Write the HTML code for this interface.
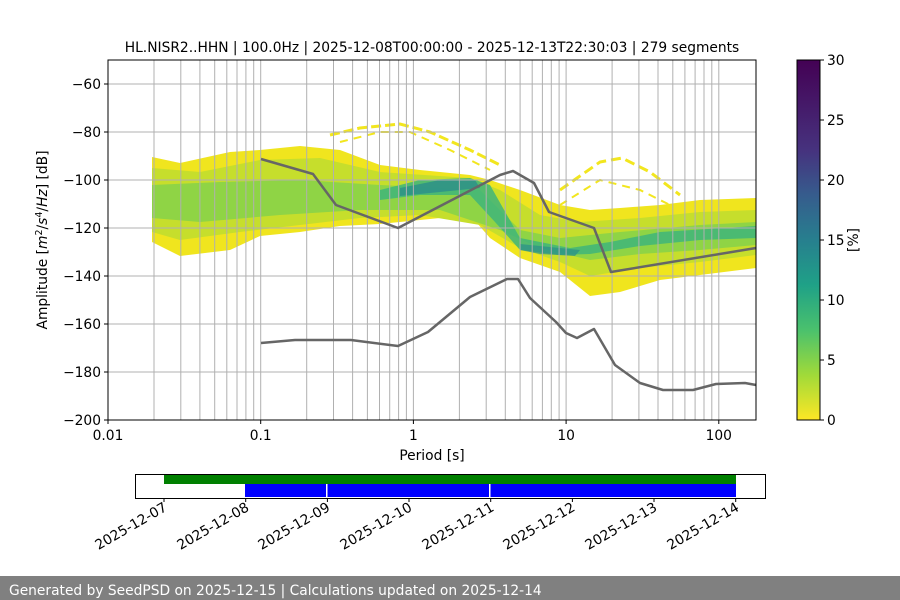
<!DOCTYPE html>
<html><head><meta charset="utf-8"><style>
html,body{margin:0;padding:0;background:#fff;}
svg{display:block;font-family:"DejaVu Sans","Liberation Sans",sans-serif;}
</style></head><body>
<svg width="900" height="600" viewBox="0 0 900 600" xmlns="http://www.w3.org/2000/svg">
<defs>
<linearGradient id="vir" x1="0" y1="1" x2="0" y2="0">
<stop offset="0" stop-color="#fde725"/><stop offset="0.125" stop-color="#a0da39"/><stop offset="0.25" stop-color="#4ac16d"/><stop offset="0.375" stop-color="#1fa187"/><stop offset="0.5" stop-color="#277f8e"/><stop offset="0.625" stop-color="#365c8d"/><stop offset="0.75" stop-color="#46327e"/><stop offset="1" stop-color="#440154"/>
</linearGradient>
</defs>
<rect width="900" height="600" fill="#fff"/>
<text x="432" y="52" font-size="13.8" text-anchor="middle">HL.NISR2..HHN | 100.0Hz | 2025-12-08T00:00:00 - 2025-12-13T22:30:03 | 279 segments</text>

<!-- heatmap -->
<polygon fill="#f0e51e" points="152,157 180,163 230,152 260,150 300,146 340,150 380,165 420,170 470,175 490,180 520,190 560,205 590,210 620,208 660,205 700,200 756,198 756,268 700,275 660,280 620,292 590,296 560,272 520,258 490,238 470,215 420,220 380,224 340,226 300,232 260,236 230,250 180,256 152,242"/>
<polygon fill="#c6de2c" points="152,168 200,172 260,160 320,158 380,172 470,178 500,190 540,215 580,222 640,218 700,212 756,210 756,255 700,262 640,268 590,276 560,262 520,248 480,225 420,215 360,218 300,225 240,232 180,240 152,232"/>
<polygon fill="#8fd445" points="152,185 220,182 300,180 380,185 440,188 480,190 520,230 560,238 620,232 700,225 756,222 756,245 700,250 640,254 590,260 540,248 500,230 440,210 360,210 280,215 200,222 152,218"/>
<polygon fill="#3fb57a" opacity="0.85" points="380,190 420,180 470,178 490,185 520,238 570,248 610,242 660,232 756,226 756,238 700,240 640,246 590,254 560,255 520,250 495,222 470,195 420,195 380,200"/>
<polygon fill="#2a8f8a" opacity="0.8" points="400,188 440,180 475,180 480,188 440,192 400,196"/>
<polygon fill="#2a8f8a" opacity="0.7" points="520,244 560,248 580,250 575,256 540,254 520,250"/>
<path d="M330,135 L360,128 L400,124 L430,132 L470,150 L500,165" fill="none" stroke="#f2e61e" stroke-width="3" stroke-dasharray="10,4"/>
<path d="M340,142 L380,132 L410,132 L450,150 L490,170" fill="none" stroke="#f2e61e" stroke-width="2" stroke-dasharray="8,6"/>
<path d="M560,190 L600,162 L622,158 L650,172 L680,195" fill="none" stroke="#f2e61e" stroke-width="3" stroke-dasharray="10,5"/>
<path d="M560,205 L600,180 L640,190 L670,205" fill="none" stroke="#f2e61e" stroke-width="2" stroke-dasharray="8,6"/>

<!-- grid -->
<g stroke="#b0b0b0" stroke-width="1">
<path d="M154,60V420M180.8,60V420M199.9,60V420M214.7,60V420M226.8,60V420M237,60V420M245.9,60V420M253.7,60V420M260.7,60V420M306.7,60V420M333.5,60V420M352.6,60V420M367.4,60V420M379.5,60V420M389.7,60V420M398.6,60V420M406.4,60V420M413.4,60V420M459.4,60V420M486.2,60V420M505.3,60V420M520.1,60V420M532.2,60V420M542.4,60V420M551.3,60V420M559.1,60V420M566.1,60V420M612.1,60V420M638.9,60V420M658,60V420M672.8,60V420M684.9,60V420M695.1,60V420M704,60V420M711.8,60V420M718.8,60V420"/>
<path d="M108,84H756M108,132H756M108,180H756M108,228H756M108,276H756M108,324H756M108,372H756"/>
</g>
<!-- noise models -->
<g fill="none" stroke="#666" stroke-width="2.5" stroke-linejoin="round">
<polyline points="261,159 313,174 336,205 398,228 500,175 513,171 534,183 549,212 594,228 611,272 756,248"/>
<polyline points="261,343 295,340 351,340 398,346 428,332 470,297 507,279 518,279 530,298 556,322 566,333 577,338 594,329 615,365 640,383 663,390 693,390 716,384 745,383 756,385"/>
</g>
<rect x="108" y="60" width="648" height="360" fill="none" stroke="#000" stroke-width="1"/>
<!-- ticks -->
<g stroke="#000"><path d="M104,84H108M104,132H108M104,180H108M104,228H108M104,276H108M104,324H108M104,372H108M104,420H108M108,420V424M260.7,420V424M413.4,420V424M566.1,420V424M718.8,420V424"/></g>
<g font-size="13.8" text-anchor="end">
<text x="101" y="89">−60</text><text x="101" y="137">−80</text><text x="101" y="185">−100</text><text x="101" y="233">−120</text><text x="101" y="281">−140</text><text x="101" y="329">−160</text><text x="101" y="377">−180</text><text x="101" y="425">−200</text>
</g>
<g font-size="13.8" text-anchor="middle">
<text x="108" y="440">0.01</text><text x="260.7" y="440">0.1</text><text x="413.4" y="440">1</text><text x="566.1" y="440">10</text><text x="718.8" y="440">100</text>
<text x="432" y="460">Period [s]</text>
</g>
<text transform="translate(47,240) rotate(-90)" font-size="13.8" text-anchor="middle">Amplitude [<tspan font-style="italic">m</tspan><tspan font-size="9.5" dy="-5">2</tspan><tspan dy="5">/</tspan><tspan font-style="italic">s</tspan><tspan font-size="9.5" dy="-5">4</tspan><tspan dy="5">/</tspan><tspan font-style="italic">Hz</tspan>] [dB]</text>

<!-- colorbar -->
<rect x="797" y="60" width="23" height="360" fill="url(#vir)" stroke="#000" stroke-width="1"/>
<g stroke="#000"><path d="M820,60H824M820,120H824M820,180H824M820,240H824M820,300H824M820,360H824M820,420H824"/></g>
<g font-size="13.8"><text x="827" y="65">30</text><text x="827" y="125">25</text><text x="827" y="185">20</text><text x="827" y="245">15</text><text x="827" y="305">10</text><text x="827" y="365">5</text><text x="827" y="425">0</text></g>
<text transform="translate(858,240) rotate(-90)" font-size="13.8" text-anchor="middle">[%]</text>

<!-- timeline -->
<rect x="164" y="475" width="572" height="9" fill="#008000"/>
<rect x="245" y="484" width="491" height="13" fill="#0000ff"/>
<rect x="326" y="484" width="1.5" height="13" fill="#fff"/>
<rect x="489" y="484" width="1.5" height="13" fill="#fff"/>
<rect x="135.5" y="474.5" width="630" height="24" fill="none" stroke="#000"/>
<g stroke="#000"><path d="M164,498V502M245.7,498V502M327.4,498V502M409,498V502M490.7,498V502M572.4,498V502M654,498V502M735.7,498V502"/></g>
<g font-size="13.8" text-anchor="end">
<text transform="translate(168,510) rotate(-30)">2025-12-07</text>
<text transform="translate(250,510) rotate(-30)">2025-12-08</text>
<text transform="translate(331,510) rotate(-30)">2025-12-09</text>
<text transform="translate(413,510) rotate(-30)">2025-12-10</text>
<text transform="translate(495,510) rotate(-30)">2025-12-11</text>
<text transform="translate(576,510) rotate(-30)">2025-12-12</text>
<text transform="translate(658,510) rotate(-30)">2025-12-13</text>
<text transform="translate(740,510) rotate(-30)">2025-12-14</text>
</g>

<rect x="0" y="576" width="900" height="24" fill="#808080"/>
<text x="9" y="595" font-size="13.8" fill="#fff">Generated by SeedPSD on 2025-12-15 | Calculations updated on 2025-12-14</text>
</svg>
</body></html>
